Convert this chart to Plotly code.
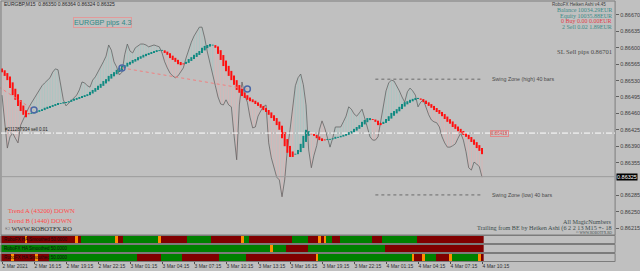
import plotly.graph_objects as go

W, H = 640, 271

# ---------------- data (prices in points, 1 point = 0.00001) ----------------
line_close_pts = [
    86499, 86435, 86386, 86410, 86418, 86407, 86397, 86435, 86448, 86461,
    86472, 86482, 86491, 86499, 86508, 86519, 86525, 86531, 86536, 86548,
    86555, 86553, 86521, 86489, 86476, 86482, 86486, 86493, 86499, 86510,
    86527, 86525, 86519, 86516, 86531, 86538, 86548, 86557, 86570, 86582,
    86606, 86595, 86570, 86559, 86542, 86548, 86585, 86608, 86593, 86589,
    86600, 86604, 86608, 86608, 86606, 86602, 86604, 86606, 86604, 86602,
    86589, 86570, 86557, 86546, 86540, 86536, 86540, 86548, 86557, 86578,
    86597, 86612, 86625, 86634, 86644, 86644, 86621, 86591, 86568, 86548,
    86519, 86495, 86480, 86478, 86489, 86478, 86474, 86414, 86361, 86478,
    86527, 86499, 86484, 86452, 86429, 86431, 86454, 86465, 86474, 86478,
    86397, 86365, 86344, 86324, 86318, 86282, 86318, 86382, 86425, 86478,
    86519, 86536, 86544, 86521, 86478, 86382, 86344, 86371, 86391, 86425,
    86444, 86429, 86410, 86388, 86407, 86431, 86431, 86431, 86442, 86454,
    86474, 86469, 86459, 86454, 86461, 86469, 86450, 86429, 86410, 86403,
    86403, 86410, 86442, 86478, 86508, 86525, 86531, 86529, 86519, 86508,
    86495, 86484, 86506, 86514, 86508, 86499, 86474, 86484, 86489, 86472,
    86457, 86446, 86442, 86440, 86431, 86410, 86397, 86388, 86388, 86391,
    86395, 86407, 86418, 86403, 86378, 86344, 86339, 86356, 86352, 86346, 86324,
]

ha_close_pts = [
    86548, 86540, 86531, 86514, 86499, 86489, 86476, 86465, 86457, 86452,
    86459, 86461, 86463, 86465, 86467, 86469, 86472, 86474, 86476, 86478,
    86480, 86482, 86482, 86484, 86484, 86486, 86489, 86491, 86493, 86495,
    86497, 86499, 86501, 86506, 86510, 86514, 86519, 86523, 86529, 86533,
    86540, 86544, 86548, 86553, 86557, 86561, 86563, 86568, 86570, 86574,
    86576, 86580, 86582, 86585, 86587, 86589, 86591, 86593, 86595, 86595,
    86595, 86589, 86585, 86578, 86574, 86570, 86565, 86563, 86565, 86570,
    86576, 86580, 86585, 86589, 86593, 86600, 86604, 86606, 86608, 86606,
    86600, 86587, 86574, 86561, 86550, 86540, 86531, 86521, 86510, 86504,
    86497, 86493, 86489, 86486, 86484, 86480, 86476, 86472, 86467, 86463,
    86457, 86450, 86444, 86435, 86425, 86407, 86390, 86376, 86367, 86367,
    86373, 86382, 86395, 86412, 86425, 86422, 86416, 86412, 86407, 86403,
    86401, 86403, 86405, 86405, 86407, 86410, 86410, 86412, 86414, 86416,
    86420, 86422, 86427, 86431, 86435, 86442, 86446, 86450, 86450, 86446,
    86442, 86435, 86435, 86442, 86448, 86454, 86461, 86465, 86469, 86474,
    86480, 86484, 86486, 86489, 86491, 86493, 86493, 86489, 86484, 86480,
    86476, 86472, 86467, 86463, 86459, 86454, 86448, 86442, 86438, 86431,
    86427, 86422, 86418, 86414, 86410, 86405, 86399, 86393, 86386, 86380, 86373,
]
ha_open0_pts = 86556

price_ticks = [0.86670, 0.86635, 0.86600, 0.86565, 0.86530, 0.86495, 0.86460,
               0.86425, 0.86390, 0.86355, 0.86285, 0.86250, 0.86215]

tick_bars = [0, 12, 24, 36, 48, 60, 72, 84, 96, 108, 120, 132, 144, 156, 168, 180]
tick_labels = ["2 Mar 2021", "2 Mar 16:15", "2 Mar 19:15", "2 Mar 22:15",
               "3 Mar 01:15", "3 Mar 04:15", "3 Mar 07:15", "3 Mar 10:15",
               "3 Mar 13:15", "3 Mar 16:15", "3 Mar 19:15", "3 Mar 22:15",
               "4 Mar 01:15", "4 Mar 04:15", "4 Mar 07:15", "4 Mar 10:15"]

# indicator strips: (state, number of bars); D = down, U = up, X = cross
strip1_runs = [("D", 9), ("X", 1), ("D", 18), ("X", 1), ("D", 1), ("U", 13), ("X", 1),
               ("D", 2), ("U", 13), ("X", 1), ("D", 10), ("U", 9), ("D", 11), ("X", 1),
               ("U", 2), ("D", 16), ("U", 6), ("D", 4), ("X", 1), ("D", 1), ("X", 1),
               ("U", 2), ("D", 3), ("U", 12), ("D", 4), ("U", 13), ("D", 25)]
strip2_runs = [("U", 101), ("X", 1), ("U", 5), ("D", 8), ("U", 29), ("D", 37)]
strip3_runs = [("D", 4), ("X", 1), ("D", 8), ("X", 1), ("D", 4), ("U", 33), ("D", 9),
               ("U", 8), ("D", 14), ("U", 10), ("D", 26), ("X", 1), ("U", 35), ("X", 1),
               ("D", 3), ("X", 1), ("U", 4), ("D", 5), ("X", 1), ("U", 10), ("X", 1), ("D", 1)]

trade_bars = [[-5, 12], [45, 92]]
trade_prices = [[0.86531, 0.86467], [0.86557, 0.86512]]
marker_bars = [12, 45, 92]
marker_prices = [0.86467, 0.86557, 0.86512]

bid_price = 0.86325
sell_price = 0.86418
swing_high = 0.86533
swing_low = 0.86286
swing_start_bar = 140

# ---------------- derived ----------------
n = len(ha_close_pts)
bars = list(range(n))
line_close = [p / 1e5 for p in line_close_pts]
ha_close = [p / 1e5 for p in ha_close_pts]
ha_open = [ha_open0_pts / 1e5]
for i in range(1, n):
    ha_open.append((ha_open[i - 1] + ha_close[i - 1]) / 2)

MINB = 0.00002
body = {"up": ([], []), "dn": ([], [])}
wick = {"up": ([], []), "dn": ([], [])}
for i in bars:
    o, c, l = ha_open[i], ha_close[i], line_close[i]
    k = "up" if c >= o else "dn"
    lo, hi = min(o, c), max(o, c)
    if hi - lo < MINB:
        m = (hi + lo) / 2
        lo, hi = m - MINB / 2, m + MINB / 2
    body[k][0].extend([i, i, None])
    body[k][1].extend([lo, hi, None])
    wl, wh = min(lo, l), max(hi, l)
    wick[k][0].extend([i, i, None])
    wick[k][1].extend([wl, wh, None])

code = {"D": 0, "U": 1, "X": 2}
def expand(runs):
    z = []
    for s, cnt in runs:
        z.extend([code[s]] * cnt)
    return z

# ---------------- figure ----------------
def py(y):
    return 1 - y / H

def px(x):
    return x / W

XR = 618 / W
fig = go.Figure()

fig.add_trace(go.Scatter(x=wick["dn"][0], y=wick["dn"][1], mode="lines",
                         line=dict(color="#dcb4b4", width=0.8), hoverinfo="skip"))
fig.add_trace(go.Scatter(x=wick["up"][0], y=wick["up"][1], mode="lines",
                         line=dict(color="#a6c6c3", width=0.8), hoverinfo="skip"))
fig.add_trace(go.Scatter(x=bars, y=line_close, mode="lines",
                         line=dict(color="#646464", width=0.8)))
fig.add_trace(go.Scatter(x=body["dn"][0], y=body["dn"][1], mode="lines",
                         line=dict(color="#ff1010", width=2)))
fig.add_trace(go.Scatter(x=body["up"][0], y=body["up"][1], mode="lines",
                         line=dict(color="#118a82", width=2)))
for tb, tp in zip(trade_bars, trade_prices):
    fig.add_trace(go.Scatter(x=tb, y=tp, mode="lines",
                             line=dict(color="#f08080", width=1, dash="dot")))
fig.add_trace(go.Scatter(x=marker_bars, y=marker_prices, mode="markers",
                         marker=dict(symbol="circle-open", size=6, color="#4b68a6",
                                     line=dict(width=1.5, color="#4b68a6"))))

cs = [[0, "#800000"], [0.333, "#800000"], [0.333, "#008000"], [0.667, "#008000"],
      [0.667, "#ff8c00"], [1, "#ff8c00"]]
for runs, ya in [(strip1_runs, "y2"), (strip2_runs, "y3"), (strip3_runs, "y4")]:
    z = expand(runs)
    fig.add_trace(go.Heatmap(z=[z], x=list(range(len(z))), y=[0], yaxis=ya, xaxis="x",
                             colorscale=cs, zmin=0, zmax=2, showscale=False))

sans = "Liberation Sans"
serif = "Liberation Serif"

fig.update_layout(
    width=W, height=H, margin=dict(l=0, r=0, t=0, b=0),
    paper_bgcolor="#c0c0c0", plot_bgcolor="#c0c0c0",
    showlegend=False,
    xaxis=dict(domain=[0, XR], range=[-0.75, 229.9], anchor="y4",
               tickvals=tick_bars, ticktext=tick_labels, ticklabelposition="outside right",
               tickangle=0, ticks="outside", ticklen=2, tickcolor="#505050",
               tickfont=dict(family=sans, size=5, color="#303030"),
               showgrid=False, zeroline=False, showline=False),
    yaxis=dict(domain=[py(235), py(2)], range=[0.862005, 0.866977], side="right",
               anchor="x", tickvals=price_ticks, tickformat=".5f",
               ticks="outside", ticklen=3, tickcolor="#606060",
               tickfont=dict(family=sans, size=5.5, color="#404040"),
               showgrid=False, zeroline=False, showline=False),
    yaxis2=dict(domain=[py(243), py(236)], range=[-0.5, 0.5], anchor="x",
                showticklabels=False, showgrid=False, zeroline=False),
    yaxis3=dict(domain=[py(252), py(245)], range=[-0.5, 0.5], anchor="x",
                showticklabels=False, showgrid=False, zeroline=False),
    yaxis4=dict(domain=[py(261), py(254)], range=[-0.5, 0.5], anchor="x",
                showticklabels=False, showgrid=False, zeroline=False),
)

shapes = []
frame = dict(color="#7c7c7c", width=1)
shapes.append(dict(type="rect", xref="paper", yref="paper", x0=px(1), x1=XR,
                   y0=py(235), y1=py(1), line=frame))
for a, b in [(235.5, 243.5), (244.5, 252.5), (253.5, 261.5)]:
    shapes.append(dict(type="rect", xref="paper", yref="paper", x0=px(1), x1=XR,
                       y0=py(b), y1=py(a), line=frame))
shapes.append(dict(type="line", xref="paper", yref="y", x0=px(1), x1=XR,
                   y0=bid_price, y1=bid_price, line=dict(color="#9c9c9c", width=1)))
shapes.append(dict(type="line", xref="paper", yref="y", x0=px(1), x1=XR,
                   y0=sell_price, y1=sell_price,
                   line=dict(color="#ffffff", width=1, dash="6px,2px,1px,2px")))
for sp in (swing_high, swing_low):
    shapes.append(dict(type="line", xref="x", yref="y", x0=swing_start_bar, x1=n - 1,
                       y0=sp, y1=sp, line=dict(color="#6a6a6a", width=1, dash="dot")))
fig.update_layout(shapes=shapes)

ann = []
def txt(x, y, s, size, color, family=sans, xanchor="left", **kw):
    ann.append(dict(x=px(x), y=py(y), xref="paper", yref="paper", text=s,
                    showarrow=False, xanchor=xanchor, yanchor="middle",
                    font=dict(family=family, size=size, color=color), **kw))

txt(2, 4.5, "EURGBP,M15  0.86350 0.86364 0.86324 0.86325", 5, "#2a2a2a")
txt(102.5, 23, "EURGBP pips 4.3", 7.2, "#2f8a86", xanchor="center",
    bordercolor="#e29a9a", borderwidth=1, borderpad=0)
txt(611, 4, "RoboFX Heiken Ashi v4.45", 4.5, "#404040", xanchor="right")
txt(617, 10.3, "Balance 10034.29EUR", 6, "#3d8c88", serif, xanchor="right")
txt(617, 15.7, "Equity 10035.88EUR", 6, "#3d8c88", serif, xanchor="right")
txt(617, 21.1, "0 Buy 0.00 0.00EUR", 6, "#e0404a", serif, xanchor="right")
txt(617, 26.5, "2 Sell 0.02 1.89EUR", 6, "#3d8c88", serif, xanchor="right")
txt(617, 51.5, "SL Sell pips 0.86701", 6.6, "#4a4a4a", serif, xanchor="right")
txt(3, 129.5, "#211287934 sell 0.01", 4.5, "#202020")
txt(6, 210.5, "Trend A (43200) DOWN", 6.7, "#ff4a4a", serif)
txt(6, 220.5, "Trend B (1440) DOWN", 6.7, "#ff4a4a", serif)
txt(3, 228, "© WWW.ROBOTFX.RO", 6.5, "#2e2e2e", serif)
txt(617, 221.5, "All MagicNumbers", 6.2, "#3c4c4c", serif, xanchor="right")
txt(617, 228, "Trailing from BE by Heiken Ashi (6 2 2 13 M15 +- 18", 6.2, "#3c4c4c",
    serif, xanchor="right")
txt(617, 232.5, "© WWW.ROBOTFX.RO", 3.5, "#3c4c4c", serif, xanchor="right")
for yy in (239.5, 248.5, 257.5):
    txt(2, yy, "RoboFX HA Smoothed 50.0000", 4.5, "#101010")

ann.append(dict(x=n + 2, y=swing_high, xref="x", yref="y", text="Swing Zone (high) 40 bars",
                showarrow=False, xanchor="left", yanchor="middle",
                font=dict(family=sans, size=5.3, color="#4a4a4a")))
ann.append(dict(x=n + 2, y=swing_low, xref="x", yref="y", text="Swing Zone (low) 40 bars",
                showarrow=False, xanchor="left", yanchor="middle",
                font=dict(family=sans, size=5.3, color="#4a4a4a")))
ann.append(dict(x=n + 2, y=sell_price, xref="x", yref="y", text=f"{sell_price:.5f}",
                showarrow=False, xanchor="left", yanchor="middle",
                bordercolor="#e08a8a", borderwidth=1, borderpad=0,
                font=dict(family=sans, size=4.5, color="#e04a4a")))
ann.append(dict(x=px(619), y=bid_price, xref="paper", yref="y", text=f"{bid_price:.5f}",
                showarrow=False, xanchor="left", yanchor="middle", bgcolor="#000000",
                borderpad=0, font=dict(family=sans, size=5.5, color="#ffffff")))
fig.update_layout(annotations=ann)

fig.write_html("out.html")
